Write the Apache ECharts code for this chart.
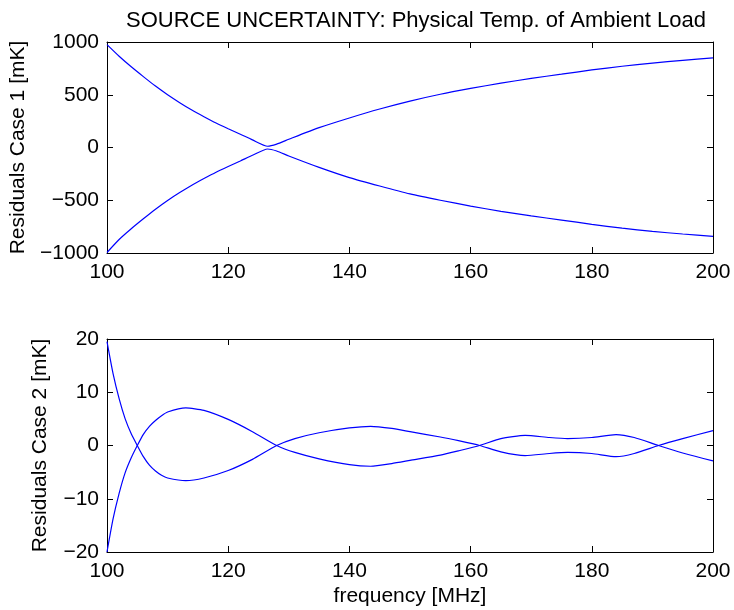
<!DOCTYPE html>
<html>
<head>
<meta charset="utf-8">
<script src="https://cdn.jsdelivr.net/npm/echarts@6/dist/echarts.min.js"></script>
<style>
  html, body { margin: 0; padding: 0; background: #fff; }
  #chart { width: 734px; height: 610px; }
</style>
</head>
<body>
<div id="chart"></div>
<script>
  // case 1 (top panel)
  var freqTop = [100, 102, 104, 106, 108, 110, 112, 114, 116, 118, 120, 122, 124, 126.5, 128, 130, 135, 140, 145, 150, 155, 160, 165, 170, 175, 180, 185, 190, 195, 200]
  var case1Up = [975, 865, 765, 672, 582, 500, 425, 355, 292, 232, 178, 126, 72, 12, 32, 78, 188, 280, 365, 440, 505, 560, 610, 655, 695, 735, 770, 800, 826, 850]
  var case1Down = [-995, -872, -770, -676, -585, -502, -427, -357, -294, -234, -180, -128, -74, -14, -33, -80, -188, -285, -365, -440, -500, -555, -605, -648, -688, -728, -765, -795, -820, -842]

  // case 2 (bottom panel)
  var freqBot = [100, 101, 102, 103, 104, 105, 106, 107, 108, 109, 110, 113, 116, 120, 124, 128, 131, 135, 140, 143.5, 147, 150, 155, 158, 161.5, 165, 169, 173, 176, 180, 184, 187, 191, 195, 200]
  var case2A = [19.5, 13.5, 8.8, 5.0, 2.2, 0, -2.1, -3.7, -4.8, -5.6, -6.1, -6.6, -6.1, -4.7, -2.6, 0, 1.3, 2.4, 3.3, 3.6, 3.2, 2.6, 1.6, 0.9, 0, -1.2, -1.9, -1.5, -1.3, -1.5, -2.1, -1.5, 0, 1.3, 2.8]
  var case2B = [-20, -13.8, -9.0, -5.1, -2.3, 0, 2.1, 3.6, 4.7, 5.6, 6.3, 7.05, 6.6, 4.9, 2.6, 0, -1.3, -2.5, -3.6, -3.9, -3.4, -2.8, -1.8, -1.0, 0, 1.3, 1.9, 1.5, 1.3, 1.5, 2.05, 1.5, 0, -1.4, -2.9]

  function pairs(xs, ys) {
    var out = []
    for (var i = 0; i < xs.length; i++) {
      out.push([xs[i], ys[i]])
    }
    return out
  }

  var font = 'Liberation Sans'
  var black = '#000'

  function minus(v) {
    return String(v).replace('-', '\u2212')
  }

  // MATLAB style box: ticks inside on every side
  function xAx(grid, pos, labels, name) {
    return {
      type: 'value', gridIndex: grid, position: pos,
      min: 100, max: 200, interval: 20,
      axisLine: { show: true, onZero: false, lineStyle: { color: black, width: 1 } },
      axisTick: { show: true, inside: true, length: 6, lineStyle: { color: black } },
      axisLabel: { show: labels, margin: 9, color: black, fontFamily: font, fontSize: 21 },
      splitLine: { show: false },
      name: name || '', nameLocation: 'middle', nameGap: 34,
      nameTextStyle: { color: black, fontFamily: font, fontSize: 21 }
    }
  }

  function yAx(grid, pos, labels, min, max, step, name, gap) {
    return {
      type: 'value', gridIndex: grid, position: pos,
      min: min, max: max, interval: step,
      axisLine: { show: true, onZero: false, lineStyle: { color: black, width: 1 } },
      axisTick: { show: true, inside: true, length: 6, lineStyle: { color: black } },
      axisLabel: { show: labels, margin: 8, color: black, fontFamily: font, fontSize: 21, formatter: minus },
      splitLine: { show: false },
      name: name || '', nameLocation: 'middle', nameGap: gap || 0,
      nameTextStyle: { color: black, fontFamily: font, fontSize: 21 }
    }
  }

  function line(xi, yi, data) {
    return {
      type: 'line', xAxisIndex: xi, yAxisIndex: yi,
      data: data, showSymbol: false, smooth: 0.2,
      lineStyle: { color: '#0000ff', width: 1.2 },
      animation: false
    }
  }

  var option = {
    backgroundColor: '#fff',
    animation: false,
    title: {
      text: 'SOURCE UNCERTAINTY: Physical Temp. of Ambient Load',
      left: 411, top: 5, textAlign: 'center',
      textStyle: { color: black, fontFamily: font, fontSize: 22, fontWeight: 'normal' }
    },
    grid: [
      { left: 107, right: 21, top: 42, height: 211 },
      { left: 107, right: 21, top: 339, height: 213 }
    ],
    xAxis: [
      xAx(0, 'bottom', true),
      xAx(0, 'top', false),
      xAx(1, 'bottom', true, 'frequency [MHz]'),
      xAx(1, 'top', false)
    ],
    yAxis: [
      yAx(0, 'left', true, -1000, 1000, 500, 'Residuals Case 1 [mK]', 78),
      yAx(0, 'right', false, -1000, 1000, 500),
      yAx(1, 'left', true, -20, 20, 10, 'Residuals Case 2 [mK]', 56),
      yAx(1, 'right', false, -20, 20, 10)
    ],
    series: [
      line(0, 0, pairs(freqTop, case1Up)),
      line(0, 0, pairs(freqTop, case1Down)),
      line(2, 2, pairs(freqBot, case2A)),
      line(2, 2, pairs(freqBot, case2B))
    ]
  }

  var chart = echarts.init(document.getElementById('chart'))
  chart.setOption(option)
</script>
</body>
</html>
